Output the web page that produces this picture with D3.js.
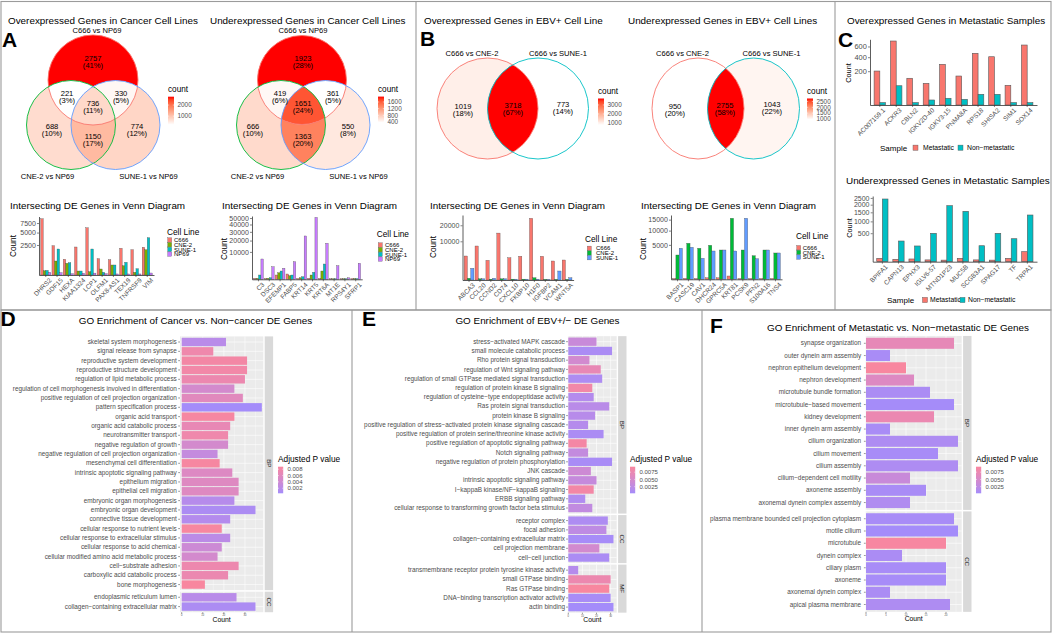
<!DOCTYPE html>
<html>
<head>
<meta charset="utf-8">
<script src="https://cdn.jsdelivr.net/npm/d3@7"></script>
<style>
  body { margin: 0; background: #fff; }
  svg text { font-family: "Liberation Sans", Arial, sans-serif; }
</style>
</head>
<body>
<svg id="fig" width="1052" height="633"></svg>
<script>
//** ---------------- data: Venn diagrams ----------------
// region order (3 sets): top only, top&left, top&right, all, left only, right only, left&right
const vennRegions3 = [[1,0,0],[1,1,0],[1,0,1],[1,1,1],[0,1,0],[0,0,1],[0,1,1]];
const vennASets = ['C666 vs NP69', 'CNE-2 vs NP69', 'SUNE-1 vs NP69'];
const vennA1Counts = [2757, 221, 330, 736, 688, 774, 1150];
const vennA1Pct = ['41%', '3%', '5%', '11%', '10%', '12%', '17%'];
const vennA2Counts = [1923, 419, 361, 1651, 666, 550, 1363];
const vennA2Pct = ['28%', '6%', '5%', '24%', '10%', '8%', '20%'];
// region order (2 sets): left only, both, right only
const vennRegions2 = [[1,0],[1,1],[0,1]];
const vennBSets = ['C666 vs CNE-2', 'C666 vs SUNE-1'];
const vennB1Counts = [1019, 3718, 773];
const vennB1Pct = ['18%', '67%', '14%'];
const vennB2Counts = [950, 2755, 1043];
const vennB2Pct = ['20%', '58%', '22%'];
const countTicksA1 = [1000, 2000];
const countTicksA2 = [400, 800, 1200, 1600];
const countTicksB1 = [1000, 2000, 3000];
const countTicksB2 = [1000, 1500, 2000, 2500];

//** ---------------- data: intersecting DE gene bar charts ----------------
const cellLinesA = ['C666', 'CNE-2', 'SUNE-1', 'NP69'];
const cellLinesB = ['C666', 'CNE-2', 'SUNE-1'];
const genesA3 = ['DHRS2', 'GDF15', 'HEXA', 'KIAA1324', 'LCP1', 'OLFM1', 'PAX8-AS1', 'TEX19', 'TNFRSF9', 'VIM'];
const a3C666 = [8800, 2385, 684, 2178, 6200, 738, 650, 1980, 1778, 2130];
const a3CNE2 = [50, 544, 380, 44, 30, 100, 278, 240, 20, 1778];
const a3SUNE1 = [60, 1877, 420, 44, 1877, 20, 278, 448, 110, 3865];
const a3NP69 = [20, 15, 5, 8, 10, 5, 3, 3, 3, 11];
const ticksA3 = [2500, 5000, 7500];

const genesA4 = ['C3', 'DSC3', 'EFEMP1', 'FABP5', 'KRT14', 'KRT5', 'KRT6A', 'MT1E', 'RPS4Y1', 'SFRP1'];
const a4C666 = [13, 10, 246, 374, 10, 13, 10, 5, 5, 8];
const a4CNE2 = [13, 15, 580, 173, 34, 246, 918, 5, 5, 8];
const a4SUNE1 = [246, 34, 918, 246, 90, 650, 3118, 5, 5, 8];
const a4NP69 = [5490, 2115, 1611, 4126, 25000, 51000, 17260, 2464, 30, 3400];
const ticksA4 = [10000, 20000, 30000, 40000, 50000];

const genesB3 = ['ABCA3', 'CCL20', 'CCND2', 'CD74', 'CXCL10', 'FKBP10', 'H1F0', 'IGFBP2', 'VCAM1', 'WNT5A'];
const b3C666 = [3846, 7719, 2590, 14700, 3320, 3750, 25400, 3750, 2410, 2670];
const b3CNE2 = [20, 10, 5, 10, 5, 5, 35, 3, 3, 3];
const b3SUNE1 = [914, 10, 20, 10, 5, 5, 5, 3, 540, 35];
const ticksB3 = [10000, 20000];

const genesB4 = ['BASP1', 'CASC19', 'CAV1', 'DHCR24', 'GPRC5A', 'KRT81', 'PCSK9', 'PFN2', 'S100A16', 'TNS4'];
const b4C666 = [3, 4, 3, 10, 10, 46, 3, 3, 3, 3];
const b4CNE2 = [2490, 5465, 4052, 4874, 3620, 15690, 3620, 2350, 3620, 2920];
const b4SUNE1 = [4052, 4318, 1860, 3377, 3620, 3377, 15690, 1790, 3620, 2920];
const ticksB4 = [5000, 10000, 15000];

//** ---------------- data: metastatic samples ----------------
const sampleGroups = ['Metastatic', 'Non\u2212metastatic'];
const genesC1 = ['AC007159.1', 'ACKR3', 'CBLN2', 'IGKV2D-40', 'IGKV3-15', 'PNMA8A', 'RPS18', 'SHISA2', 'SIM1', 'SOX14'];
const c1Met = [202, 717, 125, 82, 290, 147, 468, 408, 68, 630];
const c1NonMet = [1, 65, 1, 4.4, 7.9, 5.7, 20, 20, 1, 1];
const ticksC1 = [200, 400, 600];
const genesC2 = ['BPIFA1', 'CAPN13', 'EPHX3', 'IGLV6-57', 'MTND1P23', 'MUC5B', 'SCGB3A1', 'SPAG17', 'TF', 'TRPA1'];
const c2Met = [7, 3.5, 4.5, 2, 1.5, 7, 2, 1.5, 7, 61.5];
const c2NonMet = [2418, 263, 152, 496, 1929, 1562, 157, 496, 325, 1341];
const ticksC2 = [500, 1000, 1500, 2000, 2500];

//** ---------------- data: GO enrichment ----------------
const goD_BP = ['skeletal system morphogenesis', 'signal release from synapse', 'reproductive system development',
  'reproductive structure development', 'regulation of lipid metabolic process',
  'regulation of cell morphogenesis involved in differentiation', 'positive regulation of cell projection organization',
  'pattern specification process', 'organic acid transport', 'organic acid catabolic process', 'neurotransmitter transport',
  'negative regulation of growth', 'negative regulation of cell projection organization', 'mesenchymal cell differentiation',
  'intrinsic apoptotic signaling pathway', 'epithelium migration', 'epithelial cell migration', 'embryonic organ morphogenesis',
  'embryonic organ development', 'connective tissue development', 'cellular response to nutrient levels',
  'cellular response to extracellular stimulus', 'cellular response to acid chemical',
  'cellular modified amino acid metabolic process', 'cell\u2212substrate adhesion', 'carboxylic acid catabolic process',
  'bone morphogenesis'];
const goD_BPcount = [21, 15, 31, 31, 30, 25, 29, 38, 25, 23, 22, 22, 17, 18, 24, 27, 27, 25, 35, 23, 19, 23, 19, 17, 27, 22, 11];
const goD_BPpadj = [0.0020, 0.0076, 0.0082, 0.0080, 0.0073, 0.0045, 0.0060, 0.0004, 0.0085, 0.0068, 0.0076, 0.0045,
  0.0030, 0.0086, 0.0055, 0.0056, 0.0056, 0.0018, 0.0010, 0.0016, 0.0087, 0.0022, 0.0038, 0.0045, 0.0074, 0.0072, 0.0088];
const goD_CC = ['endoplasmic reticulum lumen', 'collagen\u2212containing extracellular matrix'];
const goD_CCcount = [26, 35];
const goD_CCpadj = [0.0020, 0.0010];

const goE_BP = ['stress\u2212activated MAPK cascade', 'small molecule catabolic process', 'Rho protein signal transduction',
  'regulation of Wnt signaling pathway', 'regulation of small GTPase mediated signal transduction',
  'regulation of protein kinase B signaling', 'regulation of cysteine\u2212type endopeptidase activity',
  'Ras protein signal transduction', 'protein kinase B signaling',
  'positive regulation of stress\u2212activated protein kinase signaling cascade',
  'positive regulation of protein serine/threonine kinase activity', 'positive regulation of apoptotic signaling pathway',
  'Notch signaling pathway', 'negative regulation of protein phosphorylation', 'JNK cascade',
  'intrinsic apoptotic signaling pathway', 'I\u2212kappaB kinase/NF\u2212kappaB signaling', 'ERBB signaling pathway',
  'cellular response to transforming growth factor beta stimulus'];
const goE_BPcount = [20, 31, 15, 23, 24, 17, 18, 29, 19, 14, 25, 13, 14, 31, 16, 20, 18, 12, 17];
const goE_BPpadj = [0.0035, 0.0008, 0.0045, 0.0072, 0.0010, 0.0085, 0.0015, 0.0020, 0.0018, 0.0016, 0.0008, 0.0088,
  0.0030, 0.0006, 0.0040, 0.0032, 0.0087, 0.0012, 0.0028];
const goE_CC = ['receptor complex', 'focal adhesion', 'collagen\u2212containing extracellular matrix', 'cell projection membrane',
  'cell\u2212cell junction'];
const goE_CCcount = [28, 27, 32, 22, 29];
const goE_CCpadj = [0.0010, 0.0025, 0.0004, 0.0045, 0.0008];
const goE_MF = ['transmembrane receptor protein tyrosine kinase activity', 'small GTPase binding', 'Ras GTPase binding',
  'DNA\u2212binding transcription activator activity', 'actin binding'];
const goE_MFcount = [7, 30, 29, 30, 32];
const goE_MFpadj = [0.0016, 0.0078, 0.0094, 0.0006, 0.0002];

const goF_BP = ['synapse organization', 'outer dynein arm assembly', 'nephron epithelium development', 'nephron development',
  'microtubule bundle formation', 'microtubule\u2212based movement', 'kidney development', 'inner dynein arm assembly',
  'cilium organization', 'cilium movement', 'cilium assembly', 'cilium\u2212dependent cell motility', 'axoneme assembly',
  'axonemal dynein complex assembly'];
const goF_BPcount = [22, 6, 10, 12, 16, 22, 17, 6, 23, 18, 23, 11, 15, 11];
const goF_BPpadj = [0.0070, 0.0006, 0.0094, 0.0058, 0.0008, 0.0003, 0.0076, 0.0006, 0.0010, 0.0005, 0.0010, 0.0035,
  0.0006, 0.0012];
const goF_CC = ['plasma membrane bounded cell projection cytoplasm', 'motile cilium', 'microtubule', 'dynein complex',
  'ciliary plasm', 'axoneme', 'axonemal dynein complex', 'apical plasma membrane'];
const goF_CCcount = [22, 23, 20, 9, 20, 20, 6, 21];
const goF_CCpadj = [0.0005, 0.0002, 0.0092, 0.0008, 0.0005, 0.0004, 0.0008, 0.0010];

//** ---------------- colours ----------------
const hue4 = ['#F8766D', '#7CAE00', '#00BFC4', '#C77CFF'];
const hue3 = ['#F8766D', '#00BA38', '#619CFF'];
const hue2 = ['#F8766D', '#00BFC4'];
const GO_LOW = '#A48CFA';   // smallest adjusted p
const GO_HIGH = '#F8879F';  // largest adjusted p
const AXIS_TXT = '#4d4d4d';

//** ---------------- setup ----------------
const W = 1052, H = 633;
const svg = d3.select('#fig');
const defs = svg.append('defs');
svg.append('rect').attr('width', W).attr('height', H).attr('fill', '#fff');
let uid = 0;

function txt(g, x, y, s, size, o = {}) {
  const t = g.append('text').attr('x', x).attr('y', y).attr('font-size', size)
    .attr('fill', o.fill || '#000').text(s);
  if (o.anchor) t.attr('text-anchor', o.anchor);
  if (o.weight) t.attr('font-weight', o.weight);
  if (o.transform) t.attr('transform', o.transform);
  return t;
}
function ell(sel, c) {
  return sel.attr('cx', c.cx).attr('cy', c.cy).attr('rx', c.rx).attr('ry', c.ry);
}

//** frames
const frame = svg.append('g').attr('stroke', '#9b9b9b').attr('stroke-width', 1.1).attr('fill', 'none');
frame.append('rect').attr('x', 1).attr('y', 1.5).attr('width', 1050).attr('height', 308.5);
frame.append('line').attr('x1', 416).attr('x2', 416).attr('y1', 1.5).attr('y2', 310);
frame.append('line').attr('x1', 835).attr('x2', 835).attr('y1', 1.5).attr('y2', 310);
frame.append('rect').attr('x', 1).attr('y', 310).attr('width', 1050).attr('height', 322);
frame.append('line').attr('x1', 352).attr('x2', 352).attr('y1', 310).attr('y2', 632);
frame.append('line').attr('x1', 702).attr('x2', 702).attr('y1', 310).attr('y2', 632);

//** panel letters
[['A', 2, 47], ['B', 420, 45.5], ['C', 838, 46.5], ['D', 0.5, 325.5], ['E', 362, 325.5], ['F', 710, 333]]
  .forEach(d => txt(svg, d[1], d[2], d[0], 21, {weight: 'bold'}));

//** ---------------- Venn ----------------
function countLegend(o) {
  const id = 'cg' + (uid++);
  const col = d3.scaleLinear().domain(o.domain).range(['#ffffff', '#ff0000']).interpolate(d3.interpolateLab);
  const grad = defs.append('linearGradient').attr('id', id)
    .attr('x1', 0).attr('y1', 1).attr('x2', 0).attr('y2', 0);
  d3.range(11).forEach(k => grad.append('stop').attr('offset', k / 10)
    .attr('stop-color', col(o.domain[0] + k / 10 * (o.domain[1] - o.domain[0]))));
  svg.append('rect').attr('x', o.x).attr('y', o.top).attr('width', 6).attr('height', o.h)
    .attr('fill', `url(#${id})`);
  const y = d3.scaleLinear().domain(o.domain).range([o.top + o.h, o.top]);
  txt(svg, o.x, o.top - 4.8, 'count', 8.2);
  o.ticks.forEach(t => {
    svg.append('line').attr('x1', o.x).attr('x2', o.x + 1.2).attr('y1', y(t)).attr('y2', y(t))
      .attr('stroke', '#fff').attr('stroke-width', 0.5);
    svg.append('line').attr('x1', o.x + 4.8).attr('x2', o.x + 6).attr('y1', y(t)).attr('y2', y(t))
      .attr('stroke', '#fff').attr('stroke-width', 0.5);
    txt(svg, o.x + 9.5, y(t) + 2.3, t, 6.4, {fill: AXIS_TXT});
  });
}

function venn(o) {
  const g = svg.append('g');
  const fill = d3.scaleLinear().domain(d3.extent(o.counts)).range(['#ffffff', '#ff0000'])
    .interpolate(d3.interpolateLab);
  const bx0 = d3.min(o.circles, c => c.cx - c.rx) - 2, bx1 = d3.max(o.circles, c => c.cx + c.rx) + 2;
  const by0 = d3.min(o.circles, c => c.cy - c.ry) - 2, by1 = d3.max(o.circles, c => c.cy + c.ry) + 2;
  o.regions.forEach((mem, i) => {
    let p = g;
    mem.forEach((inside, j) => {
      const id = 'vm' + (uid++);
      const m = defs.append('mask').attr('id', id).attr('maskUnits', 'userSpaceOnUse')
        .attr('x', 0).attr('y', 0).attr('width', W).attr('height', H);
      if (!inside) m.append('rect').attr('width', W).attr('height', H).attr('fill', '#fff');
      ell(m.append('ellipse'), o.circles[j]).attr('fill', inside ? '#fff' : '#000');
      p = p.append('g').attr('mask', `url(#${id})`);
    });
    p.append('rect').attr('x', bx0).attr('y', by0).attr('width', bx1 - bx0).attr('height', by1 - by0)
      .attr('fill', fill(o.counts[i]));
  });
  o.circles.forEach((c, j) => ell(g.append('ellipse'), c).attr('fill', 'none')
    .attr('stroke', o.strokes[j]).attr('stroke-width', 0.9));
  o.counts.forEach((v, i) => {
    const [lx, ly] = o.labelPos[i];
    txt(g, lx, ly - 0.8, v, 7.6, {anchor: 'middle'});
    txt(g, lx, ly + 6.2, '(' + o.pct[i] + ')', 7.6, {anchor: 'middle'});
  });
  o.sets.forEach((s, j) => txt(g, o.setPos[j][0], o.setPos[j][1], s, 7.6, {anchor: 'middle'}));
  txt(svg, o.title[0], o.title[1], o.title[2], 9.9);
  countLegend(o.legend);
}

venn({
  title: [8, 24.3, 'Overexpressed Genes in Cancer Cell Lines'],
  sets: vennASets, counts: vennA1Counts, pct: vennA1Pct, regions: vennRegions3, strokes: hue3,
  circles: [{cx: 93, cy: 80, rx: 45, ry: 45}, {cx: 71, cy: 125, rx: 44.5, ry: 44.5}, {cx: 115.5, cy: 125, rx: 44.5, ry: 44.5}],
  labelPos: [[93, 61.5], [67, 97], [121, 97], [93, 106.5], [52, 129.5], [137, 129.5], [93, 139.5]],
  setPos: [[97, 33.3], [47.5, 178.8], [148.5, 178.8]],
  legend: {x: 168, top: 96.7, h: 28, domain: d3.extent(vennA1Counts), ticks: countTicksA1}
});
venn({
  title: [210, 24.3, 'Underexpressed Genes in Cancer Cell Lines'],
  sets: vennASets, counts: vennA2Counts, pct: vennA2Pct, regions: vennRegions3, strokes: hue3,
  circles: [{cx: 302, cy: 80, rx: 44.5, ry: 44.5}, {cx: 281, cy: 125, rx: 44.5, ry: 44.5}, {cx: 325.5, cy: 125, rx: 44.5, ry: 44.5}],
  labelPos: [[303, 61.5], [280, 97], [333, 97], [303, 106.5], [253, 129.5], [348, 129.5], [303, 139.5]],
  setPos: [[303, 33.3], [257.5, 178.8], [358.5, 178.8]],
  legend: {x: 378, top: 96.6, h: 26, domain: d3.extent(vennA2Counts), ticks: countTicksA2}
});
venn({
  title: [424, 24.3, 'Overexpressed Genes in EBV+ Cell Line'],
  sets: vennBSets, counts: vennB1Counts, pct: vennB1Pct, regions: vennRegions2, strokes: hue2,
  circles: [{cx: 487.5, cy: 108.5, rx: 50.5, ry: 50.5}, {cx: 538, cy: 108.5, rx: 50.5, ry: 50.5}],
  labelPos: [[463, 109.5], [513, 108.5], [563, 108]],
  setPos: [[472, 55.8], [558, 55.8]],
  legend: {x: 598, top: 98.5, h: 26.5, domain: d3.extent(vennB1Counts), ticks: countTicksB1}
});
venn({
  title: [628, 24.3, 'Underexpressed Genes in EBV+ Cell Lines'],
  sets: vennBSets, counts: vennB2Counts, pct: vennB2Pct, regions: vennRegions2, strokes: hue2,
  circles: [{cx: 698, cy: 108.5, rx: 46, ry: 50.5}, {cx: 753.5, cy: 108.5, rx: 46, ry: 50.5}],
  labelPos: [[675, 109.5], [725, 108.5], [772, 108]],
  setPos: [[682.5, 55.8], [771.5, 55.8]],
  legend: {x: 807, top: 98.5, h: 21, domain: d3.extent(vennB2Counts), ticks: countTicksB2}
});

//** ---------------- grouped bar charts (sqrt count axis) ----------------
function barChart(o) {
  const g = svg.append('g');
  const names = o.series.map(s => s.name);
  const x = d3.scaleBand().domain(o.cats).range([o.x0, o.x1]).paddingInner(o.pi).paddingOuter(o.po);
  const xs = d3.scaleBand().domain(names).range([0, x.bandwidth()]);
  const y = d3.scaleSqrt().domain([0, o.yMax]).range([o.base, o.top]);
  o.series.forEach(s => {
    g.append('g').selectAll('rect').data(s.values).join('rect')
      .attr('x', (d, i) => x(o.cats[i]) + xs(s.name))
      .attr('y', d => y(d))
      .attr('width', xs.bandwidth())
      .attr('height', d => o.base - y(d))
      .attr('fill', s.color)
      .attr('stroke', o.stroke).attr('stroke-width', o.strokeW);
  });
  const ya = g.append('g').attr('transform', `translate(${o.x0},0)`)
    .call(d3.axisLeft(y).tickValues(o.ticks).tickFormat(d3.format('d'))
      .tickSize(2).tickSizeOuter(0).tickPadding(1.2));
  const xa = g.append('g').attr('transform', `translate(0,${o.base})`)
    .call(d3.axisBottom(x).tickSize(2).tickSizeOuter(0).tickFormat(''));
  [ya, xa].forEach(a => {
    a.attr('color', '#333').attr('font-family', null);
    a.select('.domain').attr('stroke-width', 0.8);
    a.selectAll('.tick line').attr('stroke-width', 0.6);
  });
  ya.selectAll('text').attr('font-size', o.tickFont).attr('fill', AXIS_TXT);
  const cap = 0.716 * o.xFont;
  g.append('g').selectAll('text').data(o.cats).join('text')
    .attr('font-size', o.xFont).attr('fill', AXIS_TXT).attr('text-anchor', 'end')
    .attr('transform', d => {
      const ax = x(d) + x.bandwidth() / 2 + o.xShift + 0.707 * cap;
      const ay = o.base + 2.5 + 0.707 * cap;
      return `translate(${ax},${ay}) rotate(-45)`;
    })
    .text(d => d);
  txt(svg, o.title[0], o.title[1], o.title[2], 9.9);
  txt(svg, 0, 0, 'Count', o.yLabFont, {anchor: 'middle',
    transform: `translate(${o.yLab[0]},${o.yLab[1]}) rotate(-90)`});
  // legend
  const L = o.legend;
  if (L.vertical) {
    txt(svg, L.x, L.titleY, L.title, 8.3);
    o.series.forEach((s, i) => {
      const cy = L.y0 + i * L.step;
      svg.append('rect').attr('x', L.keyX).attr('y', cy - 2.2).attr('width', 4).attr('height', 4.4)
        .attr('fill', s.color).attr('stroke', '#555').attr('stroke-width', 0.3);
      txt(svg, L.labX, cy + 2.1, s.name, 6, {fill: '#000'});
    });
  } else {
    txt(svg, L.x, L.y + 2.9, L.title, 8);
    o.series.forEach((s, i) => {
      svg.append('rect').attr('x', L.keyX[i]).attr('y', L.y - 2.6).attr('width', 5).attr('height', 5.2)
        .attr('fill', s.color).attr('stroke', '#555').attr('stroke-width', 0.4);
      txt(svg, L.labX[i], L.y + 2.4, s.name, 6.8);
    });
  }
}

barChart({
  title: [10, 209.3, 'Intersecting DE Genes in Venn Diagram'],
  cats: genesA3, x0: 39, x1: 154, pi: 0.1, po: 0.15, base: 275, top: 216.5, yMax: 9506, ticks: ticksA3,
  series: [{name: cellLinesA[0], values: a3C666, color: hue4[0]}, {name: cellLinesA[1], values: a3CNE2, color: hue4[1]},
           {name: cellLinesA[2], values: a3SUNE1, color: hue4[2]}, {name: cellLinesA[3], values: a3NP69, color: hue4[3]}],
  stroke: '#444', strokeW: 0.3, tickFont: 7, xFont: 6.5, xShift: 3, yLab: [15.5, 246], yLabFont: 8.2,
  legend: {vertical: true, title: 'Cell Line', x: 167, titleY: 235, y0: 240, step: 4.7, keyX: 167.7, labX: 174}
});
barChart({
  title: [222, 209.3, 'Intersecting DE Genes in Venn Diagram'],
  cats: genesA4, x0: 252, x1: 362.2, pi: 0.1, po: 0.15, base: 279.3, top: 216, yMax: 53370, ticks: ticksA4,
  series: [{name: cellLinesA[0], values: a4C666, color: hue4[0]}, {name: cellLinesA[1], values: a4CNE2, color: hue4[1]},
           {name: cellLinesA[2], values: a4SUNE1, color: hue4[2]}, {name: cellLinesA[3], values: a4NP69, color: hue4[3]}],
  stroke: '#444', strokeW: 0.3, tickFont: 7, xFont: 6.5, xShift: 3, yLab: [226.5, 249], yLabFont: 8.2,
  legend: {vertical: true, title: 'Cell Line', x: 376.7, titleY: 237, y0: 245, step: 4.7, keyX: 378.3, labX: 385}
});
barChart({
  title: [430, 209.3, 'Intersecting DE Genes in Venn Diagram'],
  cats: genesB3, x0: 462.5, x1: 573.6, pi: 0.1, po: 0.15, base: 280, top: 215, yMax: 28210, ticks: ticksB3,
  series: [{name: cellLinesB[0], values: b3C666, color: hue3[0]}, {name: cellLinesB[1], values: b3CNE2, color: hue3[1]},
           {name: cellLinesB[2], values: b3SUNE1, color: hue3[2]}],
  stroke: '#444', strokeW: 0.3, tickFont: 7, xFont: 6.5, xShift: 3, yLab: [435.5, 247], yLabFont: 8.2,
  legend: {vertical: true, title: 'Cell Line', x: 585, titleY: 241.7, y0: 248.3, step: 4.7, keyX: 587.3, labX: 596}
});
barChart({
  title: [641, 209.3, 'Intersecting DE Genes in Venn Diagram'],
  cats: genesB4, x0: 671, x1: 782, pi: 0.1, po: 0.15, base: 279.3, top: 215, yMax: 17430, ticks: ticksB4,
  series: [{name: cellLinesB[0], values: b4C666, color: hue3[0]}, {name: cellLinesB[1], values: b4CNE2, color: hue3[1]},
           {name: cellLinesB[2], values: b4SUNE1, color: hue3[2]}],
  stroke: '#444', strokeW: 0.3, tickFont: 7, xFont: 6.5, xShift: 3, yLab: [646, 249], yLabFont: 8.2,
  legend: {vertical: true, title: 'Cell Line', x: 796, titleY: 239.4, y0: 247.7, step: 4.7, keyX: 796.7, labX: 802.7}
});
barChart({
  title: [847, 24.3, 'Overexpressed Genes in Metastatic Samples'],
  cats: genesC1, x0: 870, x1: 1037, pi: 0.3, po: 0.25, base: 105, top: 39.3, yMax: 756, ticks: ticksC1,
  series: [{name: sampleGroups[0], values: c1Met, color: hue2[0]}, {name: sampleGroups[1], values: c1NonMet, color: hue2[1]}],
  stroke: '#595959', strokeW: 0.6, tickFont: 7.4, xFont: 6.5, xShift: 2.5, yLab: [851, 73], yLabFont: 7.4,
  legend: {vertical: false, title: 'Sample', x: 880, y: 147.7, keyX: [913, 958], labX: [923, 967]}
});
barChart({
  title: [846, 183.6, 'Underexpressed Genes in Metastatic Samples'],
  cats: genesC2, x0: 872.7, x1: 1037, pi: 0.3, po: 0.25, base: 261.7, top: 196, yMax: 2655, ticks: ticksC2,
  series: [{name: sampleGroups[0], values: c2Met, color: hue2[0]}, {name: sampleGroups[1], values: c2NonMet, color: hue2[1]}],
  stroke: '#595959', strokeW: 0.6, tickFont: 7, xFont: 6.5, xShift: 2.5, yLab: [852, 228], yLabFont: 7.4,
  legend: {vertical: false, title: 'Sample', x: 887, y: 300, keyX: [922.5, 960], labX: [930, 968]}
});

//** ---------------- GO enrichment (faceted horizontal bars) ----------------
function goChart(o) {
  const g = svg.append('g');
  const x = d3.scaleLinear().domain(o.xDomain).range([o.px0, o.px1]);
  const allP = o.facets.flatMap(f => f.padj);
  const pExt = d3.extent(allP);
  const col = d3.scaleLinear().domain(pExt).range([GO_LOW, GO_HIGH]).interpolate(d3.interpolateLab);
  const dt = o.ticks[1] - o.ticks[0];
  const minor = o.ticks.map(t => t + dt / 2).filter(v => x(v) < o.px1);
  let top = o.y0 - 0.6 * o.step;
  let bottom = top;
  o.facets.forEach(f => {
    const h = (f.terms.length + 0.2) * o.step;
    const yb = d3.scaleBand().domain(f.terms).range([top, top + h]).paddingInner(0.1).paddingOuter(0.15);
    g.append('rect').attr('x', o.px0).attr('y', top).attr('width', o.px1 - o.px0).attr('height', h)
      .attr('fill', '#ebebeb');
    minor.forEach(v => g.append('line').attr('x1', x(v)).attr('x2', x(v)).attr('y1', top).attr('y2', top + h)
      .attr('stroke', '#fff').attr('stroke-width', 0.3));
    o.ticks.forEach(v => g.append('line').attr('x1', x(v)).attr('x2', x(v)).attr('y1', top).attr('y2', top + h)
      .attr('stroke', '#fff').attr('stroke-width', 0.6));
    f.terms.forEach(t => {
      const cy = yb(t) + yb.bandwidth() / 2;
      g.append('line').attr('x1', o.px0).attr('x2', o.px1).attr('y1', cy).attr('y2', cy)
        .attr('stroke', '#fff').attr('stroke-width', 0.6);
    });
    g.append('g').selectAll('rect').data(f.terms).join('rect')
      .attr('x', x(0)).attr('y', d => yb(d))
      .attr('width', (d, i) => x(f.counts[i]) - x(0)).attr('height', yb.bandwidth())
      .attr('fill', (d, i) => col(f.padj[i]));
    f.terms.forEach(t => {
      const cy = yb(t) + yb.bandwidth() / 2;
      g.append('line').attr('x1', o.px0 - 1.8).attr('x2', o.px0).attr('y1', cy).attr('y2', cy)
        .attr('stroke', '#333').attr('stroke-width', 0.5);
      txt(g, o.px0 - o.labelGap, cy + 2.1, t, o.labFont, {anchor: 'end', fill: AXIS_TXT});
    });
    const sx = o.px1 + 1.4;
    g.append('rect').attr('x', sx).attr('y', top).attr('width', 8.4).attr('height', h).attr('fill', '#d9d9d9');
    txt(g, 0, 0, f.name, 6.2, {anchor: 'middle', fill: '#1a1a1a',
      transform: `translate(${sx + 2.1},${top + h / 2}) rotate(90)`});
    bottom = top + h;
    top += h + o.gap;
  });
  o.ticks.forEach(v => {
    g.append('line').attr('x1', x(v)).attr('x2', x(v)).attr('y1', bottom).attr('y2', bottom + 1.6)
      .attr('stroke', '#333').attr('stroke-width', 0.5);
    txt(g, x(v), bottom + 4.2, v, 2.6, {anchor: 'middle', fill: AXIS_TXT});
  });
  txt(g, (o.px0 + o.px1) / 2, bottom + 9.4, 'Count', 6.8, {anchor: 'middle'});
  txt(svg, o.title[0], o.title[1], o.title[2], 9.9, {anchor: 'middle'});
  // p value legend
  const L = o.legend;
  const id = 'pg' + (uid++);
  const grad = defs.append('linearGradient').attr('id', id).attr('x1', 0).attr('y1', 1).attr('x2', 0).attr('y2', 0);
  d3.range(11).forEach(k => grad.append('stop').attr('offset', k / 10)
    .attr('stop-color', col(pExt[0] + k / 10 * (pExt[1] - pExt[0]))));
  txt(svg, L.x, 461.9, 'Adjusted P value', 8.3);
  svg.append('rect').attr('x', L.x).attr('y', 466.7).attr('width', 5.2).attr('height', 26.6)
    .attr('fill', `url(#${id})`);
  const py = d3.scaleLinear().domain(pExt).range([493.3, 466.7]);
  L.ticks.forEach(t => {
    svg.append('line').attr('x1', L.x).attr('x2', L.x + 1).attr('y1', py(t)).attr('y2', py(t))
      .attr('stroke', '#fff').attr('stroke-width', 0.5);
    svg.append('line').attr('x1', L.x + 4.2).attr('x2', L.x + 5.2).attr('y1', py(t)).attr('y2', py(t))
      .attr('stroke', '#fff').attr('stroke-width', 0.5);
    txt(svg, L.x + 9.5, py(t) + 2.1, L.fmt(t), 6, {fill: AXIS_TXT});
  });
}

goChart({
  title: [195.5, 323.6, 'GO Enrichment of Cancer vs. Non\u2212cancer DE Genes'],
  facets: [{name: 'BP', terms: goD_BP, counts: goD_BPcount, padj: goD_BPpadj},
           {name: 'CC', terms: goD_CC, counts: goD_CCcount, padj: goD_CCpadj}],
  y0: 342, step: 9.33, gap: 1.5, px0: 180, px1: 263.3, xDomain: [-0.8, 38.7], ticks: [0, 10, 20, 30],
  labelGap: 3.2, labFont: 6.4,
  legend: {x: 278, ticks: [0.002, 0.004, 0.006, 0.008], fmt: d3.format('.3f')}
});
goChart({
  title: [537.5, 323.6, 'GO Enrichment of EBV+/\u2212 DE Genes'],
  facets: [{name: 'BP', terms: goE_BP, counts: goE_BPcount, padj: goE_BPpadj},
           {name: 'CC', terms: goE_CC, counts: goE_CCcount, padj: goE_CCpadj},
           {name: 'MF', terms: goE_MF, counts: goE_MFcount, padj: goE_MFpadj}],
  y0: 341.7, step: 9.24, gap: 1.5, px0: 567.9, px1: 616.7, xDomain: [-0.28, 34.3], ticks: [0, 10, 20, 30],
  labelGap: 2.9, labFont: 6.4,
  legend: {x: 630, ticks: [0.0025, 0.005, 0.0075], fmt: d3.format('.4f')}
});
goChart({
  title: [898, 331.3, 'GO Enrichment of Metastatic vs. Non\u2212metastatic DE Genes'],
  facets: [{name: 'BP', terms: goF_BP, counts: goF_BPcount, padj: goF_BPpadj},
           {name: 'CC', terms: goF_CC, counts: goF_CCcount, padj: goF_CCpadj}],
  y0: 343.3, step: 12.25, gap: 1.5, px0: 865.7, px1: 961.7, xDomain: [-0.075, 23.925], ticks: [0, 5, 10, 15, 20],
  labelGap: 4.6, labFont: 6.4,
  legend: {x: 976, ticks: [0.0025, 0.005, 0.0075], fmt: d3.format('.4f')}
});
</script>
</body>
</html>
